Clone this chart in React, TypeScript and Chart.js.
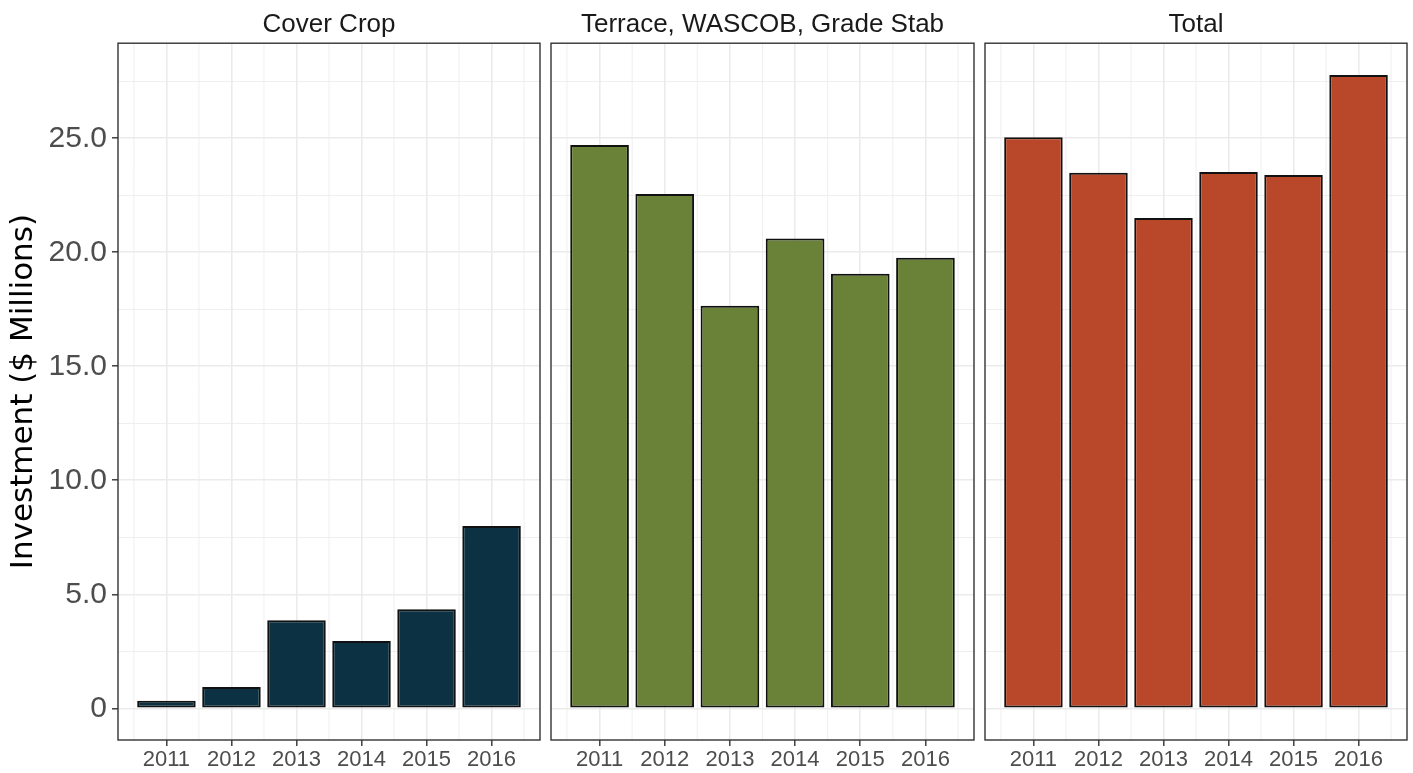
import React, { useEffect, useRef } from 'react';
import { Chart, registerables } from 'chart.js';

Chart.register(...registerables);

// ---- data ----
const years = [2011, 2012, 2013, 2014, 2015, 2016];
const coverCrop = [0.33, 0.93, 3.86, 2.95, 4.34, 8.0];
const terraceWascobGradeStab = [24.7, 22.56, 17.65, 20.6, 19.06, 19.76];
const total = [25.04, 23.49, 21.5, 23.52, 23.39, 27.78];
const panelTitles = ['Cover Crop', 'Terrace, WASCOB, Grade Stab', 'Total'];
const yAxisTitle = 'Investment ($ Millions)';

// ---- axis ranges (ggplot-like 5% expansion) ----
const X_MIN = 2010.255;
const X_MAX = 2016.745;
const Y_MIN = -1.39;
const Y_MAX = 29.17;

const FONT = '"Liberation Sans", Arial, Helvetica, sans-serif';
const GRID = '#ebebeb';
const FRAME = '#333333';
const TICK_TEXT = '#4d4d4d';

const isMajorY = (v: number) => Math.abs(v % 5) < 1e-6;

const panelDecor = {
  id: 'panelDecor',
  beforeDatasetsDraw(chart: any) {
    const { ctx, chartArea: a, scales } = chart;
    const x = scales.x;
    ctx.save();
    ctx.beginPath();
    ctx.rect(a.left, a.top, a.right - a.left, a.bottom - a.top);
    ctx.clip();
    ctx.strokeStyle = GRID;
    ctx.lineWidth = 0.8;
    const minor = [...years.map((y) => y - 0.5), years[years.length - 1] + 0.5];
    minor.forEach((v) => {
      const px = x.getPixelForValue(v);
      ctx.beginPath();
      ctx.moveTo(px, a.top);
      ctx.lineTo(px, a.bottom);
      ctx.stroke();
    });
    ctx.restore();
  },
  afterDraw(chart: any) {
    const { ctx, chartArea: a } = chart;
    ctx.save();
    ctx.strokeStyle = FRAME;
    ctx.lineWidth = 1.4;
    ctx.strokeRect(a.left, a.top, a.right - a.left, a.bottom - a.top);
    ctx.restore();
  },
};

function makeConfig(
  title: string,
  values: number[],
  color: string,
  showY: boolean,
  padLeft: number,
  padRight: number
): any {
  return {
    type: 'bar',
    data: {
      datasets: [
        {
          data: years.map((yr, i) => ({ x: yr, y: values[i] })),
          backgroundColor: color,
          borderColor: '#111111',
          borderWidth: 2,
          borderSkipped: false,
          barPercentage: 0.9,
          categoryPercentage: 1,
        },
      ],
    },
    options: {
      animation: false,
      responsive: false,
      maintainAspectRatio: false,
      layout: { padding: { left: padLeft, right: padRight, top: 0, bottom: 0 } },
      plugins: {
        legend: { display: false },
        tooltip: { enabled: false },
        title: {
          display: true,
          text: title,
          fullSize: false,
          color: '#1a1a1a',
          font: { family: FONT, size: 26, weight: 'normal' },
          padding: { top: 9, bottom: 3 },
        },
      },
      scales: {
        x: {
          type: 'linear',
          min: X_MIN,
          max: X_MAX,
          offset: false,
          afterFit: (s: any) => {
            s.height = 33;
          },
          border: { display: false },
          grid: {
            offset: false,
            color: GRID,
            lineWidth: 1.6,
            drawTicks: true,
            tickLength: 6,
            tickColor: FRAME,
            tickWidth: 1.4,
          },
          ticks: {
            stepSize: 1,
            includeBounds: false,
            autoSkip: false,
            maxRotation: 0,
            padding: 1,
            color: TICK_TEXT,
            font: { family: FONT, size: 22 },
            callback: (v: number) => String(v),
          },
        },
        y: {
          type: 'linear',
          min: Y_MIN,
          max: Y_MAX,
          afterFit: (s: any) => {
            s.width = showY ? 118 : 0;
          },
          border: { display: false },
          title: {
            display: showY,
            text: yAxisTitle,
            color: '#000000',
            font: { family: '"DejaVu Sans", "Liberation Sans", sans-serif', size: 31 },
            padding: { top: 5, bottom: 0 },
          },
          grid: {
            color: GRID,
            lineWidth: (c: any) => (c.tick && isMajorY(c.tick.value) ? 1.6 : 0.8),
            drawTicks: showY,
            tickLength: 6,
            tickWidth: 1.4,
            tickColor: (c: any) => (c.tick && isMajorY(c.tick.value) ? FRAME : 'rgba(0,0,0,0)'),
          },
          ticks: {
            display: showY,
            stepSize: 2.5,
            includeBounds: false,
            autoSkip: false,
            padding: 5,
            color: TICK_TEXT,
            font: { family: FONT, size: 30 },
            callback: (v: number) => (v === 0 ? '0' : isMajorY(v) ? v.toFixed(1) : ''),
          },
        },
      },
    },
    plugins: [panelDecor],
  };
}

interface PanelProps {
  left: number;
  width: number;
  config: any;
}

function Panel({ left, width, config }: PanelProps) {
  const ref = useRef<HTMLCanvasElement | null>(null);
  useEffect(() => {
    if (!ref.current) return;
    const chart = new Chart(ref.current, config);
    return () => chart.destroy();
  }, [config]);
  return (
    <canvas
      ref={ref}
      width={width}
      height={773}
      style={{ position: 'absolute', left, top: 0, width, height: 773 }}
    />
  );
}

const configs = [
  makeConfig(panelTitles[0], coverCrop, '#0b3142', true, 0, 6),
  makeConfig(panelTitles[1], terraceWascobGradeStab, '#6a8138', false, 5, 6),
  makeConfig(panelTitles[2], total, '#b9482a', false, 5, 6),
];

export default function App() {
  return (
    <div
      style={{
        position: 'absolute',
        left: 0,
        top: 0,
        width: 1413,
        height: 773,
        background: '#ffffff',
        overflow: 'hidden',
      }}
    >
      <Panel left={0} width={546} config={configs[0]} />
      <Panel left={546} width={434} config={configs[1]} />
      <Panel left={980} width={433} config={configs[2]} />
    </div>
  );
}
